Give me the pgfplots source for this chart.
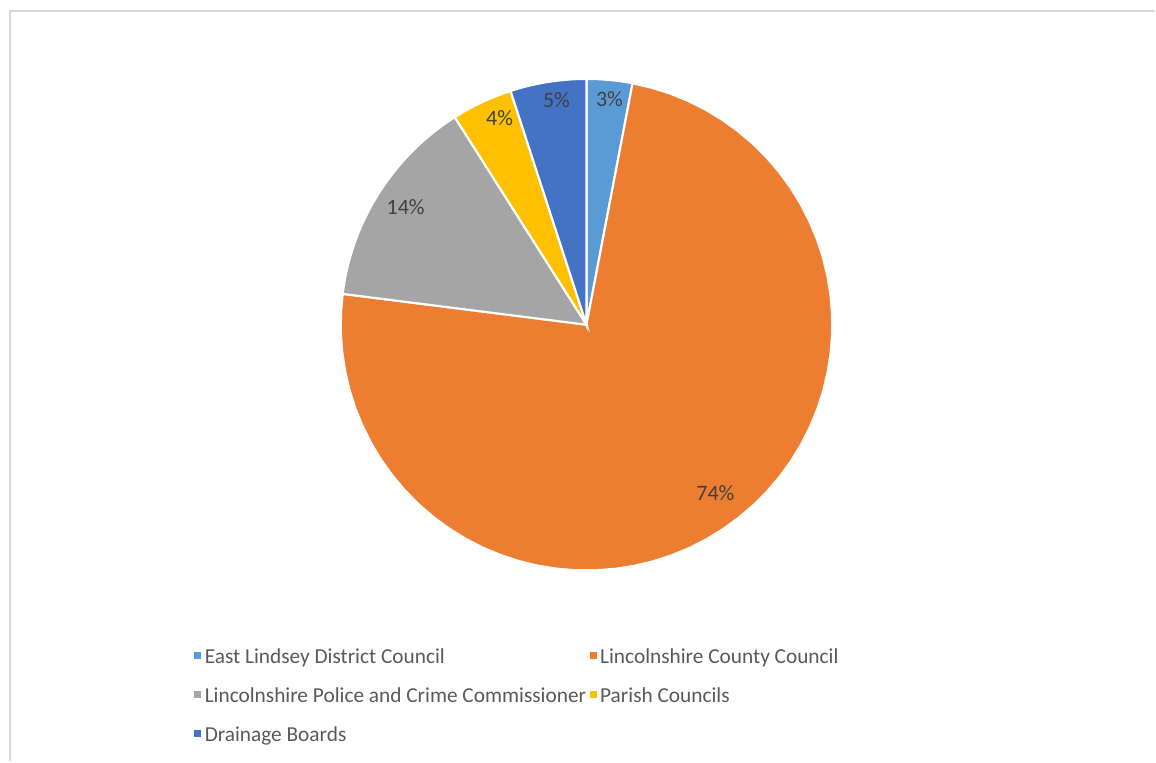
\documentclass[border=0pt]{standalone}
\usepackage{pgfplots}
\pgfplotsset{compat=1.18}
\usepackage{fontspec}
\setmainfont{Carlito}
\definecolor{cA}{HTML}{5B9BD5}
\definecolor{cB}{HTML}{ED7D31}
\definecolor{cC}{HTML}{A5A5A5}
\definecolor{cD}{HTML}{FFC000}
\definecolor{cE}{HTML}{4472C4}
\definecolor{txt}{HTML}{595959}
% shares (percent)
\def\vA{3}\def\vB{74}\def\vC{14}\def\vD{4}\def\vE{5}
\pgfmathsetmacro{\aO}{90}
\pgfmathsetmacro{\aA}{\aO-3.6*\vA}
\pgfmathsetmacro{\aB}{\aA-3.6*\vB}
\pgfmathsetmacro{\aC}{\aB-3.6*\vC}
\pgfmathsetmacro{\aD}{\aC-3.6*\vD}
\pgfmathsetmacro{\aE}{\aD-3.6*\vE}
\def\cx{587}\def\cy{437}\def\R{246}
\begin{document}
\begin{tikzpicture}
\begin{axis}[width=867pt,height=571.5pt,scale only axis,
  xmin=0,xmax=1156,ymin=0,ymax=762,hide axis,clip=false,
  legend columns=2,
  legend style={at={(axis cs:190,118)},anchor=north west,draw=none,fill=none,
    font=\fontsize{16}{19}\selectfont,text=txt,row sep=12.5pt,
    /tikz/every even column/.append style={column sep=0pt},
    nodes={inner xsep=2.5pt}},
  legend cell align=left,
  legend image code/.code={\fill[#1,draw=none] (0pt,-1.5pt) rectangle (5.5pt,4pt);},
  every axis plot/.append style={draw=white,line width=1.6pt,samples=60,variable=\t},
]
\path (axis cs:0,0) rectangle (axis cs:1156,762);
\draw[black!15,line width=1.5pt] (axis cs:1156,751) -- (axis cs:10,751) -- (axis cs:10,0);
\addplot[fill=cA,domain=\aA:\aO] ({\cx+\R*cos(\t)},{\cy+\R*sin(\t)}) -- (axis cs:\cx,\cy) -- cycle;
\addlegendentry{East Lindsey District Council}
\addplot[fill=cB,domain=\aB:\aA] ({\cx+\R*cos(\t)},{\cy+\R*sin(\t)}) -- (axis cs:\cx,\cy) -- cycle;
\addlegendentry{Lincolnshire County Council}
\addplot[fill=cC,domain=\aC:\aB] ({\cx+\R*cos(\t)},{\cy+\R*sin(\t)}) -- (axis cs:\cx,\cy) -- cycle;
\addlegendentry{Lincolnshire Police and Crime Commissioner}
\addplot[fill=cD,domain=\aD:\aC] ({\cx+\R*cos(\t)},{\cy+\R*sin(\t)}) -- (axis cs:\cx,\cy) -- cycle;
\addlegendentry{Parish Councils}
\addplot[fill=cE,domain=\aE:\aD] ({\cx+\R*cos(\t)},{\cy+\R*sin(\t)}) -- (axis cs:\cx,\cy) -- cycle;
\addlegendentry{Drainage Boards}
\begin{scope}[every node/.style={font=\fontsize{16.5}{19}\selectfont,text=black!75}]
\node at (axis cs:610,663) {3\%};
\node at (axis cs:557,662) {5\%};
\node at (axis cs:500,644) {4\%};
\node at (axis cs:406,555) {14\%};
\node at (axis cs:716,268) {74\%};
\end{scope}
\end{axis}
\end{tikzpicture}
\end{document}
